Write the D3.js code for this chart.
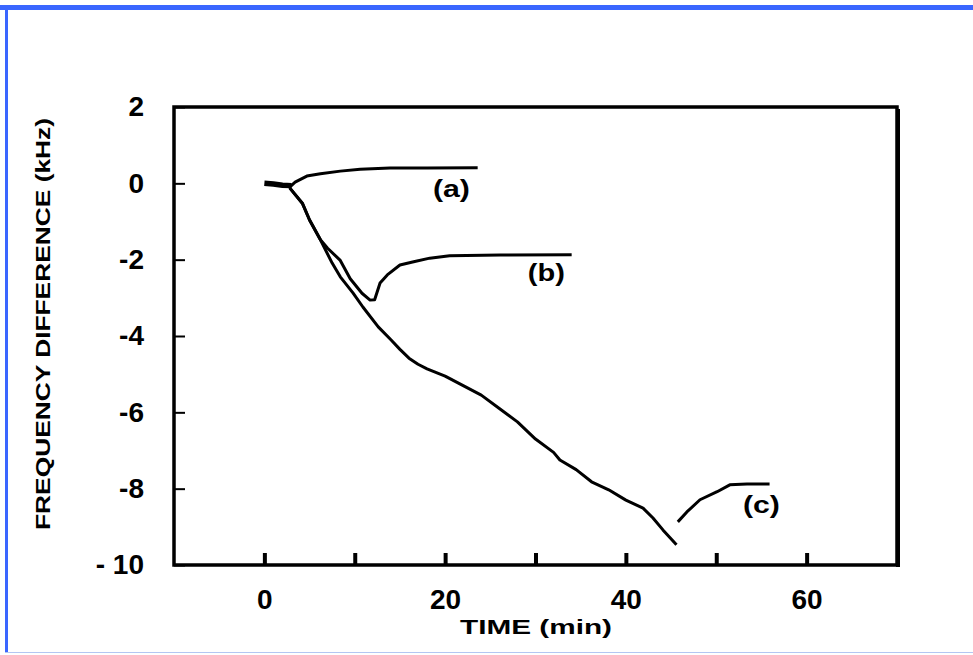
<!DOCTYPE html>
<html>
<head>
<meta charset="utf-8">
<script src="https://cdn.jsdelivr.net/npm/d3@7"></script>
<style>
  html, body { margin: 0; padding: 0; background: #fff; }
  svg { display: block; }
</style>
</head>
<body>
<div class="canvas"></div>
<script>
// time (min) vs frequency difference (kHz)
const xTicks = [0, 10, 20, 30, 40, 50, 60];
const yTicks = [2, 0, -2, -4, -6, -8, -10];

const curveStart = [[0, 0], [1, -0.02], [2, -0.05], [3, -0.06]];

const curveA = [
  [2.8, -0.1], [3.4, 0.03], [4.7, 0.19], [6.2, 0.25], [8.4, 0.32],
  [10.6, 0.37], [13.9, 0.4], [18, 0.4], [23.6, 0.41]
];

const curveB = [
  [2.8, -0.12], [4.2, -0.52], [5.0, -0.96], [6.2, -1.48], [7.0, -1.7],
  [8.4, -2.02], [9.5, -2.5], [10.8, -2.88], [11.7, -3.06], [12.2, -3.05],
  [12.8, -2.61], [13.6, -2.4], [15.0, -2.14], [16.4, -2.06], [18.3, -1.96],
  [20.5, -1.9], [26.1, -1.88], [34.0, -1.87]
];

const curveC = [
  [2.8, -0.12], [4.2, -0.52], [5.0, -0.96], [6.2, -1.48], [7.5, -2.09],
  [8.4, -2.45], [9.8, -2.87], [10.9, -3.24], [12.6, -3.76], [14, -4.1],
  [15, -4.35], [16, -4.58], [17, -4.74], [18, -4.86], [20, -5.05],
  [22, -5.3], [24, -5.55], [26, -5.9], [28, -6.25], [30, -6.7],
  [32, -7.05], [32.7, -7.25], [34.5, -7.5], [36.2, -7.82], [38.1, -8.03],
  [40, -8.3], [41.9, -8.51], [43, -8.77], [44.1, -9.08], [45.6, -9.47]
];

const curveCRecovery = [
  [45.75, -8.87], [46.75, -8.61], [48.2, -8.29], [50.1, -8.08],
  [51.5, -7.9], [53.4, -7.88], [55.9, -7.88]
];

const curveLabels = [
  { text: '(a)', t: 20.7, v: -0.36 },
  { text: '(b)', t: 31.2, v: -2.56 },
  { text: '(c)', t: 55.0, v: -8.64 }
];

const dimensions = { width: 973, height: 655 };
const plot = { left: 174, right: 897, top: 107, bottom: 565 };

const svg = d3.select('.canvas')
    .append('svg')
    .attr('width', dimensions.width)
    .attr('height', dimensions.height);

// window frame
svg.append('rect').attr('x', 0).attr('y', 5).attr('width', dimensions.width).attr('height', 5).attr('fill', '#3a66ff');
svg.append('rect').attr('x', 5).attr('y', 5).attr('width', 3).attr('height', 648).attr('fill', '#3a66ff');
svg.append('rect').attr('x', 5).attr('y', 652).attr('width', dimensions.width).attr('height', 1).attr('fill', '#b4c6f2');

const x = d3.scaleLinear().domain([-10, 70]).range([plot.left, plot.right]);
const y = d3.scaleLinear().domain([-10, 2]).range([plot.bottom, plot.top]);

const font = 'Liberation Sans, Arial, sans-serif';

// x axis
const xAxis = d3.axisBottom(x)
    .tickValues(xTicks)
    .tickSizeInner(-12)
    .tickSizeOuter(0)
    .tickPadding(24)
    .tickFormat(d => d % 20 === 0 ? String(d) : '');

const xg = svg.append('g')
    .attr('transform', `translate(0, ${plot.bottom})`)
    .call(xAxis);
xg.select('.domain').remove();
xg.selectAll('line').attr('stroke', '#000').attr('stroke-width', 4);
xg.selectAll('text')
    .attr('fill', '#000')
    .style('font-family', font)
    .style('font-size', '28px')
    .style('font-weight', 'bold');

// y axis
const yAxis = d3.axisLeft(y)
    .tickValues(yTicks)
    .tickSizeInner(-11)
    .tickSizeOuter(0)
    .tickPadding(30)
    .tickFormat(d => d === -10 ? '- 10' : String(d));

const yg = svg.append('g')
    .attr('transform', `translate(${plot.left}, 0)`)
    .call(yAxis);
yg.select('.domain').remove();
yg.selectAll('line').attr('stroke', '#000').attr('stroke-width', 2);
yg.selectAll('text')
    .attr('fill', '#000')
    .style('font-family', font)
    .style('font-size', '28px')
    .style('font-weight', 'bold');

// plot box
svg.append('path')
    .attr('d', `M${plot.left},${plot.bottom} V${plot.top} H${plot.right} V${plot.bottom} Z`)
    .attr('fill', 'none')
    .attr('stroke', '#000')
    .attr('stroke-width', 3.5);
svg.append('line')
    .attr('x1', plot.right + 1).attr('x2', plot.right + 1)
    .attr('y1', plot.top + 2).attr('y2', plot.bottom + 2)
    .attr('stroke', '#000').attr('stroke-width', 4);

// axis titles
svg.append('text')
    .attr('x', 536)
    .attr('y', 634)
    .attr('text-anchor', 'middle')
    .attr('textLength', 152)
    .attr('lengthAdjust', 'spacingAndGlyphs')
    .style('font-family', font)
    .style('font-size', '21px')
    .style('font-weight', 'bold')
    .text('TIME (min)');

svg.append('text')
    .attr('transform', 'translate(50, 324) rotate(-90)')
    .attr('text-anchor', 'middle')
    .attr('textLength', 412)
    .attr('lengthAdjust', 'spacingAndGlyphs')
    .style('font-family', font)
    .style('font-size', '21px')
    .style('font-weight', 'bold')
    .text('FREQUENCY DIFFERENCE (kHz)');

// curves
const line = d3.line()
    .x(d => x(d[0]))
    .y(d => y(d[1]));

const curves = [curveA, curveB, curveC, curveCRecovery];

svg.append('g')
    .selectAll('path')
    .data(curves)
    .enter()
    .append('path')
    .attr('d', line)
    .attr('fill', 'none')
    .attr('stroke', '#000')
    .attr('stroke-width', 3)
    .attr('stroke-linejoin', 'round');

svg.append('path')
    .attr('d', line(curveStart))
    .attr('fill', 'none')
    .attr('stroke', '#000')
    .attr('stroke-width', 5.5);

// curve labels
svg.append('g')
    .selectAll('text')
    .data(curveLabels)
    .enter()
    .append('text')
    .attr('x', d => x(d.t))
    .attr('y', d => y(d.v))
    .attr('text-anchor', 'middle')
    .attr('textLength', 37)
    .attr('lengthAdjust', 'spacingAndGlyphs')
    .style('font-family', font)
    .style('font-size', '23px')
    .style('font-weight', 'bold')
    .text(d => d.text);
</script>
</body>
</html>
